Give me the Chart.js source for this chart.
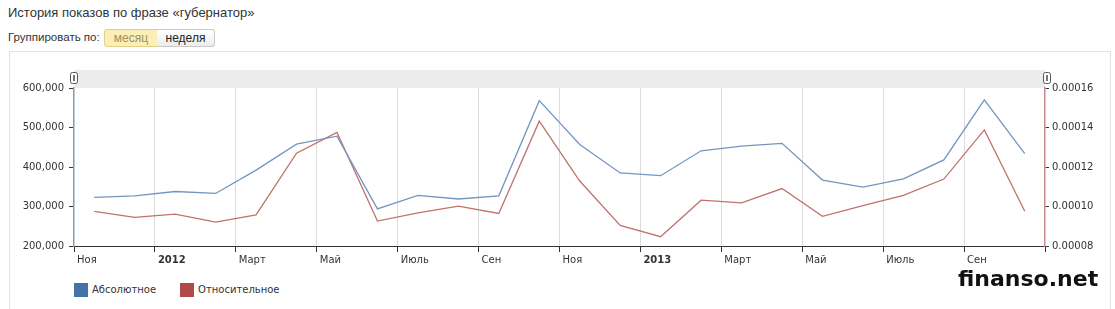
<!DOCTYPE html>
<html>
<head>
<meta charset="utf-8">
<script src="https://cdn.jsdelivr.net/npm/chart.js@4/dist/chart.umd.min.js"></script>
<style>
  body { margin: 0; background: #fff; font-family: "Liberation Sans", Arial, sans-serif; color: #333; }
  #page { position: relative; width: 1115px; height: 309px; overflow: hidden; }
  .abs { position: absolute; white-space: nowrap; }
  #title { left: 8px; top: 5px; font-size: 13px; }
  #group { left: 8px; top: 31px; font-size: 11.5px; }
  .btn { top: 29px; height: 16px; line-height: 16px; font-size: 12px; text-align: center; border: 1px solid #c9c9c9; }
  #month { left: 104px; width: 52px; background: #fbefb5; border-color: #e2cf8a; color: #a28f63; border-radius: 3px 0 0 3px; }
  #week { left: 157px; width: 57px; background: linear-gradient(#fff, #ececec); color: #222; border-left: none; border-radius: 0 3px 3px 0; }
  #box { left: 9px; top: 51px; width: 1100px; height: 300px; border: 1px solid #e2e2e2; }
  #wrap { position: absolute; left: 0; top: 60px; width: 1115px; height: 210px; }
  #legend { left: 74px; top: 283px; font: 10px "DejaVu Sans", sans-serif; color: #333; }
  #legend span.sw { display: inline-block; width: 14px; height: 14px; vertical-align: middle; margin-right: 4px; }
  #legend span.item { margin-right: 24px; }
  #mark { left: 958px; top: 266px; font: bold 22px "DejaVu Sans", sans-serif; color: #111; }
</style>
</head>
<body>
<div id="page">
  <div class="abs" id="title">История показов по фразе «губернатор»</div>
  <div class="abs" id="group">Группировать по:</div>
  <div class="abs btn" id="month">месяц</div>
  <div class="abs btn" id="week">неделя</div>
  <div class="abs" id="box"></div>
  <div id="wrap"><canvas id="chart"></canvas></div>
  <div class="abs" id="legend"></div>
  <div class="abs" id="mark">finanso.net</div>
</div>
<script>
// Nov 2011 .. Oct 2013, one value per month
const months = ['2011-11','2011-12','2012-01','2012-02','2012-03','2012-04','2012-05','2012-06',
  '2012-07','2012-08','2012-09','2012-10','2012-11','2012-12','2013-01','2013-02','2013-03',
  '2013-04','2013-05','2013-06','2013-07','2013-08','2013-09','2013-10'];
const absolute = [323000, 327000, 338000, 333000, 392000, 458000, 478000, 294000, 328000, 319000,
  327000, 568000, 457000, 385000, 378000, 441000, 453000, 460000, 367000, 349000, 370000, 418000,
  570000, 434000];
const relative = [0.0000975, 0.0000945, 0.0000961, 0.0000921, 0.0000958, 0.000127, 0.0001375,
  0.0000926, 0.0000968, 0.0001002, 0.0000965, 0.0001432, 0.0001129, 0.0000904, 0.0000847,
  0.0001032, 0.0001018, 0.0001091, 0.000095, 0.0001005, 0.0001056, 0.0001139, 0.0001388, 0.0000976];
// labels every second month, starting at Nov 2011
const axisLabels = ['Ноя','2012','Март','Май','Июль','Сен','Ноя','2013','Март','Май','Июль','Сен'];
const seriesNames = ['Абсолютное', 'Относительное'];
const legendColors = ['#4572a7', '#b04a46'];

// points sit in the middle of their month
const toPoints = arr => arr.map((v, i) => ({ x: i + 0.5, y: v }));

const legend = document.getElementById('legend');
seriesNames.forEach((n, i) => {
  legend.innerHTML += `<span class="item"><span class="sw" style="background:${legendColors[i]}"></span>${n}</span>`;
});

const rangeBar = {
  id: 'rangeBar',
  beforeDraw(chart) {
    const { ctx, chartArea: a } = chart;
    ctx.save();
    ctx.fillStyle = '#ececec';
    ctx.fillRect(a.left, a.top - 18, a.right - a.left, 18);
    ctx.restore();
  },
  afterDraw(chart) {
    const { ctx, chartArea: a } = chart;
    ctx.save();
    [a.left, a.right + 2].forEach(x => {
      ctx.fillStyle = '#fff';
      ctx.strokeStyle = '#555';
      ctx.lineWidth = 1;
      ctx.beginPath();
      ctx.roundRect(x - 3.5, a.top - 15.5, 7, 11, 2);
      ctx.fill();
      ctx.stroke();
      ctx.fillStyle = '#777';
      ctx.fillRect(x - 1, a.top - 13, 2, 6);
    });
    ctx.restore();
  }
};

const font = { family: '"DejaVu Sans", Verdana, sans-serif', size: 10 };
const isYear = v => /^\d{4}$/.test(axisLabels[v / 2] || '');
const edge = v => v === 0 || v === months.length;

new Chart('chart', {
  type: 'line',
  data: {
    datasets: [
      { label: seriesNames[0], data: toPoints(absolute), yAxisID: 'yAbs',
        borderColor: '#7495c0', borderWidth: 1.3, pointRadius: 0, tension: 0 },
      { label: seriesNames[1], data: toPoints(relative), yAxisID: 'yRel',
        borderColor: '#c0726d', borderWidth: 1.3, pointRadius: 0, tension: 0 }
    ]
  },
  options: {
    responsive: true,
    maintainAspectRatio: false,
    animation: false,
    layout: { padding: { top: 28, left: 0, right: 0, bottom: 0 } },
    plugins: { legend: { display: false }, tooltip: { enabled: false } },
    scales: {
      x: {
        type: 'linear', min: 0, max: months.length,
        afterFit: s => { s.height = 24; },
        grid: {
          color: c => (c.tick && edge(c.tick.value)) ? 'rgba(0,0,0,0)' : '#dcdcdc',
          tickColor: '#333', tickLength: 6
        },
        border: { color: '#333', width: 1 },
        ticks: {
          stepSize: 2, autoSkip: false, maxRotation: 0, align: 'start', labelOffset: 3, padding: 2,
          color: '#333',
          font: c => ({ ...font, weight: (c.tick && isYear(c.tick.value)) ? 'bold' : 'normal' }),
          callback: v => axisLabels[v / 2] || ''
        }
      },
      yAbs: {
        position: 'left', min: 200000, max: 600000,
        afterFit: s => { s.width = 74; },
        grid: { drawOnChartArea: false, tickColor: '#333', tickLength: 5 },
        border: { color: '#7f9cbf', width: 1.5 },
        ticks: { stepSize: 100000, padding: 5, color: '#333', font,
          callback: v => v.toLocaleString('en-US') }
      },
      yRel: {
        position: 'right', min: 0.00008, max: 0.00016,
        afterFit: s => { s.width = 70; },
        grid: { drawOnChartArea: false, tickColor: '#333', tickLength: 4 },
        border: { color: '#c58b8b', width: 1.5 },
        ticks: { stepSize: 0.00002, padding: 3, color: '#333', font,
          callback: v => v.toFixed(5) }
      }
    }
  },
  plugins: [rangeBar]
});
</script>
</body>
</html>
